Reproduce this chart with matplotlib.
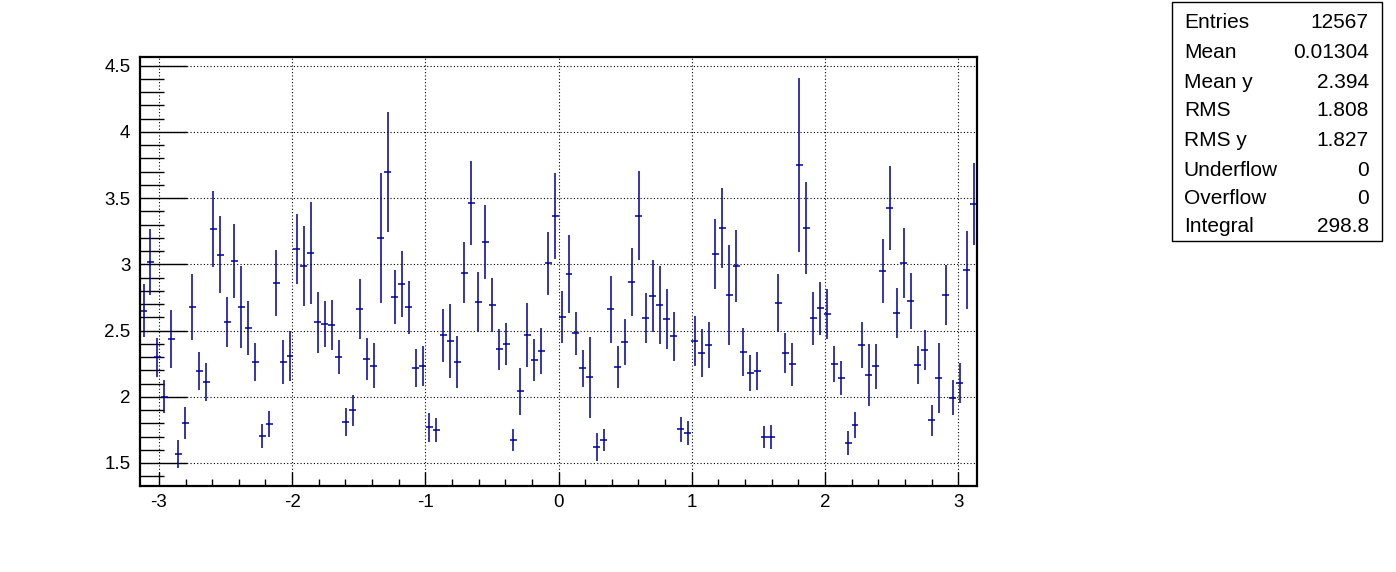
import numpy as np
import matplotlib
matplotlib.use('Agg')
import matplotlib.pyplot as plt
from matplotlib.ticker import MultipleLocator
from matplotlib.patches import Rectangle

plt.rcParams['font.family'] = ['Liberation Sans', 'DejaVu Sans']
plt.rcParams['axes.unicode_minus'] = False

# profile: 120 bins from -pi to pi, mean value and error per bin
n_bins = 120
x_min, x_max = -np.pi, np.pi

valores = [2.650, 3.020, 2.297, 2.002, 2.435, 1.566, 1.803, 2.680, 2.193, 2.110,
           3.267, 3.073, 2.564, 3.025, 2.677, 2.521, 2.262, 1.704, 1.793, 2.861,
           2.262, 2.307, 3.116, 2.988, 3.088, 2.564, 2.549, 2.541, 2.302, 1.810,
           1.899, 2.662, 2.284, 2.234, 3.199, 3.698, 2.753, 2.851, 2.677, 2.216,
           2.234, 1.770, 1.750, 2.466, 2.423, 2.262, 2.937, 3.464, 2.715, 3.169,
           2.693, 2.360, 2.398, 1.674, 2.042, 2.466, 2.279, 2.345, 3.010, 3.368,
           2.602, 2.927, 2.481, 2.216, 2.148, 1.619, 1.674, 2.662, 2.224, 2.413,
           2.867, 3.368, 2.594, 2.761, 2.693, 2.587, 2.458, 1.755, 1.725, 2.420,
           2.330, 2.390, 3.078, 3.275, 2.768, 2.988, 2.337, 2.178, 2.193, 1.697,
           1.697, 2.708, 2.330, 2.246, 3.751, 3.275, 2.594, 2.670, 2.625, 2.246,
           2.141, 1.649, 1.785, 2.390, 2.163, 2.231, 2.950, 3.426, 2.632, 3.010,
           2.723, 2.239, 2.352, 1.823, 2.141, 2.768, 1.994, 2.103, 2.957, 3.456]

errores = [0.200, 0.250, 0.150, 0.126, 0.218, 0.105, 0.120, 0.250, 0.144, 0.145,
           0.286, 0.290, 0.187, 0.280, 0.310, 0.205, 0.145, 0.090, 0.100, 0.248,
           0.168, 0.190, 0.265, 0.305, 0.385, 0.230, 0.176, 0.188, 0.130, 0.103,
           0.117, 0.226, 0.159, 0.169, 0.488, 0.452, 0.203, 0.248, 0.200, 0.142,
           0.150, 0.108, 0.090, 0.200, 0.278, 0.197, 0.229, 0.316, 0.229, 0.279,
           0.205, 0.154, 0.160, 0.086, 0.176, 0.240, 0.159, 0.176, 0.238, 0.324,
           0.198, 0.295, 0.163, 0.139, 0.305, 0.105, 0.086, 0.253, 0.159, 0.173,
           0.260, 0.337, 0.188, 0.275, 0.297, 0.229, 0.184, 0.093, 0.090, 0.188,
           0.179, 0.173, 0.263, 0.300, 0.377, 0.275, 0.180, 0.136, 0.144, 0.082,
           0.090, 0.222, 0.154, 0.161, 0.660, 0.350, 0.200, 0.200, 0.188, 0.135,
           0.131, 0.090, 0.100, 0.176, 0.233, 0.171, 0.243, 0.319, 0.189, 0.267,
           0.209, 0.142, 0.149, 0.116, 0.262, 0.228, 0.134, 0.151, 0.292, 0.311]

stats_nombres = ['Entries', 'Mean', 'Mean y', 'RMS', 'RMS y', 'Underflow', 'Overflow', 'Integral']
stats_valores = ['12567', '0.01304', '2.394', '1.808', '1.827', '0', '0', '298.8']

ancho = (x_max - x_min) / n_bins
centros = x_min + ancho * (np.arange(n_bins) + 0.5)

fig = plt.figure(figsize=(13.96, 5.72), dpi=100)
ax = fig.add_axes([0.1003, 0.1503, 0.5996, 0.75])

ax.errorbar(centros, valores, xerr=ancho / 2, yerr=errores, fmt='none',
            ecolor='#000099', elinewidth=1.1, capsize=0)

ax.set_xlim(x_min, x_max)
ax.set_ylim(1.326, 4.566)

ax.xaxis.set_major_locator(MultipleLocator(1))
ax.xaxis.set_minor_locator(MultipleLocator(0.2))
ax.yaxis.set_major_locator(MultipleLocator(0.5))
ax.yaxis.set_minor_locator(MultipleLocator(0.1))
ax.set_yticks([1.5, 2, 2.5, 3, 3.5, 4, 4.5])
ax.set_yticklabels(['1.5', '2', '2.5', '3', '3.5', '4', '4.5'])

ax.tick_params(axis='both', which='both', direction='in', top=False, right=False,
               labelsize=13.5, width=1, color='black')
ax.tick_params(axis='x', which='major', length=10, pad=6)
ax.tick_params(axis='x', which='minor', length=5)
ax.tick_params(axis='y', which='major', length=34, pad=7)
ax.tick_params(axis='y', which='minor', length=17)

ax.grid(True, which='major', color='black', linestyle=(0, (1, 2)), linewidth=0.8)
for s in ax.spines.values():
    s.set_linewidth(1.6)

# caja de estadisticas
fig.patches.append(Rectangle((0.8395, 0.5787), 0.1505, 0.4178, transform=fig.transFigure,
                             facecolor='white', edgecolor='black', linewidth=1))
filas_y = [23, 52, 82, 111, 141, 171, 199, 227]
for nombre, valor, yy in zip(stats_nombres, stats_valores, filas_y):
    fig.text(0.848, 1 - yy / 572, nombre, fontsize=15, va='center', ha='left')
    fig.text(0.9805, 1 - yy / 572, valor, fontsize=15, va='center', ha='right')

fig.savefig('out.png', dpi=100)
